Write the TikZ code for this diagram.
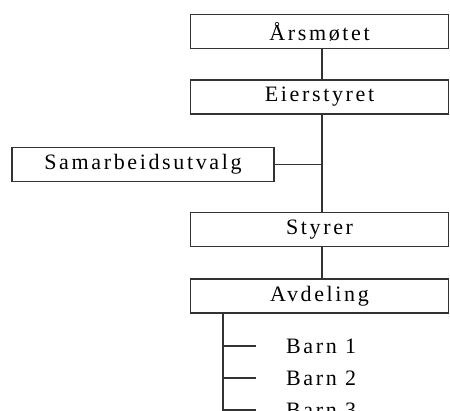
\documentclass[tikz,border=0pt]{standalone}
\usepackage{fontspec}
\setmainfont[LetterSpace=12]{Liberation Serif}
\tikzset{
	orgbox/.style={draw=black!80,line width=1.6pt,minimum width=258pt,minimum height=34pt,inner sep=0pt,font=\fontsize{22}{25}\selectfont},
	orgline/.style={draw=black!80,line width=1.6pt},
	barnlabel/.style={anchor=west,inner sep=0pt,font=\fontsize{22}{25}\selectfont}
}
\begin{document}
\begin{tikzpicture}[x=1pt,y=-1pt]
		\useasboundingbox (0,0) rectangle (450,411) ;
		\clip (0,0) rectangle (450,411) ;
		\coordinate (spine) at (322,0) ;
		\coordinate (stem) at (223,430) ;
		\node[orgbox] (arsmote) at (319.5,31.5) {Årsmøtet};
		\node[orgbox] (eierstyret) at (319.5,97) {Eierstyret};
		\node[orgbox,minimum width=262pt] (samarbeid) at (143,164.5) {Samarbeidsutvalg};
		\node[orgbox] (styrer) at (319.5,229.5) {Styrer};
		\node[orgbox] (avdeling) at (319.5,296) {Avdeling};
		\node[barnlabel] (barn1) at (286,346) {Barn 1};
		\node[barnlabel] (barn2) at (286,378) {Barn 2};
		\node[barnlabel] (barn3) at (286,410) {Barn 3};
		\draw[orgline] (arsmote.south -| spine)--(eierstyret.north -| spine) ;
		\draw[orgline] (eierstyret.south -| spine)--(styrer.north -| spine) ;
		\draw[orgline] (samarbeid.east)--(samarbeid.east -| spine) ;
		\draw[orgline] (styrer.south -| spine)--(avdeling.north -| spine) ;
		\draw[orgline] (avdeling.south -| stem)--(stem) ;
		\draw[orgline] (barn1.west -| stem)--([xshift=-30pt]barn1.west) ;
		\draw[orgline] (barn2.west -| stem)--([xshift=-30pt]barn2.west) ;
		\draw[orgline] (barn3.west -| stem)--([xshift=-30pt]barn3.west) ;
	\end{tikzpicture}
\end{document}
